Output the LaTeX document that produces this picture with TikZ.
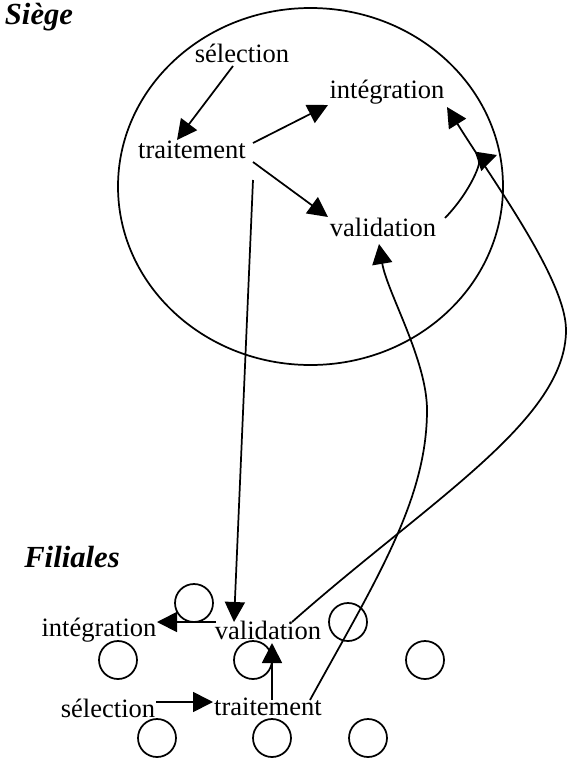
\documentclass[tikz,border=0pt]{standalone}
\usepackage{fontspec}
\setmainfont{Liberation Serif}
\usetikzlibrary{arrows.meta,calc}
\begin{document}
\begin{tikzpicture}[x=0.75pt,y=-0.75pt,
  lbl/.style={inner sep=0pt, font=\fontsize{19.9}{24}\selectfont},
  ttl/.style={inner sep=0pt, font=\fontsize{23}{28}\selectfont\bfseries\itshape},
  ring/.style={draw, circle, minimum size=28.5pt, inner sep=0pt, line width=1.3pt},
  link/.style={line width=1.3pt, -{Triangle[length=15pt,width=15pt]}},
  ]
\useasboundingbox (0,0) rectangle (568,760);
% titles
\node[ttl] (siege) at (39,17) {Siège};
\node[ttl] (filiales) at (72,557) {Filiales};
% head office ellipse
\draw[line width=1.3pt] (310.5,186.5) ellipse [x radius=192.5, y radius=178.5];
% subsidiaries circles
\node[ring] (c1) at (194,603) {};
\node[ring] (c2) at (348,622) {};
\node[ring] (c3) at (118,660) {};
\node[ring] (c4) at (253,660) {};
\node[ring] (c5) at (425,660) {};
\node[ring] (c6) at (157,738) {};
\node[ring] (c7) at (272,738) {};
\node[ring] (c8) at (368,738) {};
% head office labels
\node[lbl] (sel1) at (242,53) {sélection};
\node[lbl] (int1) at (387,92) {intégration};
\node[lbl] (tra1) at (192,150) {traitement};
\node[lbl] (val1) at (383,227) {validation};
% subsidiaries labels
\node[lbl] (int2) at (99,630) {intégration};
\node[lbl] (val2) at (268,630) {validation};
\node[lbl] (sel2) at (108,708) {sélection};
\node[lbl] (tra2) at (268,707) {traitement};
% connectors
\draw[link] ($(sel1)+(-9,13)$) -- ($(tra1)+(-15,-10)$);
\draw[link] ($(tra1)+(61,-7)$) -- ($(int1)+(-59,13)$);
\draw[link] ($(tra1)+(61,12)$) -- ($(val1)+(-55,-10)$);
\draw[link] ($(tra1)+(61,30)$) -- ($(val2)+(-34,-8)$);
\coordinate (touch) at (497,155);
\draw[link] ($(val1)+(62,-9)$) .. controls (472,190) and (482,160) .. (touch);
\draw[link] ($(val2)+(24,-8)$) .. controls (430,500) and (566,420) .. (566,330)
   .. controls (566,280) and (493,181) .. ($(int1)+(60,15)$);
\draw[link] ($(tra2)+(42,-7)$) .. controls (376,580) and (427,500) .. (427,410)
   .. controls (427,360) and (387,292) .. ($(val1)+(-4,17)$);
\draw[link] ($(val2)+(-52,-8)$) -- ($(int2)+(58,-8)$);
\draw[link] ($(sel2)+(48,-6)$) -- ($(tra2)+(-55,-5)$);
\draw[link] ($(tra2)+(4,-7)$) -- ($(val2)+(4,13)$);
\end{tikzpicture}
\end{document}
